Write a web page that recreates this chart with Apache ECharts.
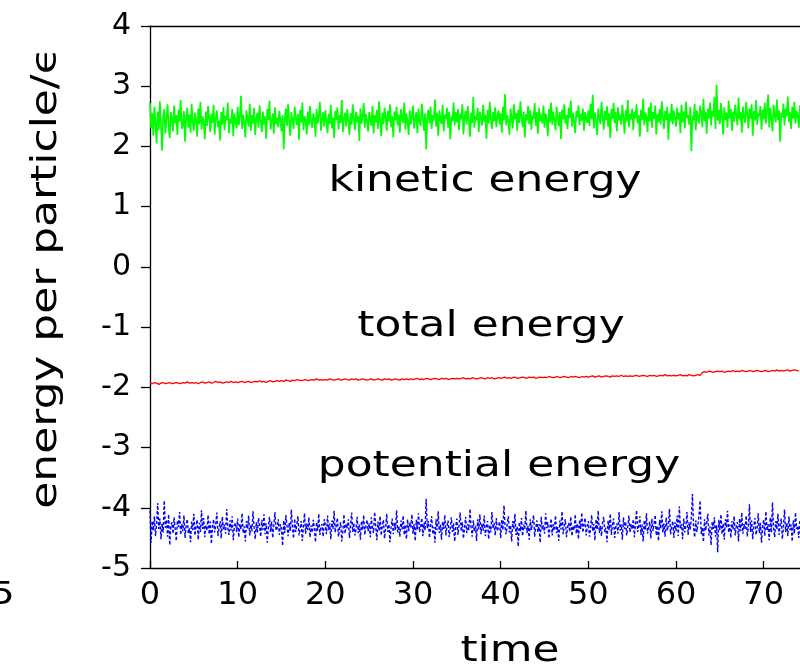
<!DOCTYPE html>
<html>
<head>
<meta charset="utf-8">
<title>energy per particle</title>
<script src="https://cdn.jsdelivr.net/npm/echarts@6/dist/echarts.min.js"></script>
<style>
  html, body { margin: 0; padding: 0; background: #fff; }
  #chart { width: 800px; height: 672px; }
</style>
</head>
<body>
<div id="chart"></div>
<script>
// sampling steps of the time series
const fastStep = 0.125; // kinetic, potential
const slowStep = 0.25;  // total

// kinetic energy per particle
const kinetic = [
  2.72, 2.30, 2.55, 2.18, 2.66, 2.40, 2.05, 2.58, 2.27, 2.75, 2.36, 1.93, 2.49, 2.62, 2.21, 2.44, 2.70, 2.33, 2.14, 2.57, 2.46, 2.25, 2.68, 2.38, 2.52, 2.19, 2.61, 2.42, 2.77, 2.29, 2.35, 2.59, 2.08, 2.47, 2.64, 2.31, 2.53, 2.23, 2.71, 2.40,
  2.26, 2.56, 2.45, 2.16, 2.63, 2.37, 2.74, 2.28, 2.50, 2.41, 2.12, 2.58, 2.34, 2.67, 2.47, 2.24, 2.54, 2.39, 2.69, 2.20, 2.48, 2.60, 2.32, 2.43, 2.10, 2.57, 2.36, 2.65, 2.27, 2.51, 2.44, 2.73, 2.22, 2.46, 2.38, 2.62, 2.17, 2.55, 2.42, 2.30,
  2.66, 2.35, 2.49, 2.84, 2.29, 2.53, 2.40, 2.15, 2.60, 2.45, 2.33, 2.71, 2.26, 2.52, 2.38, 2.64, 2.19, 2.47, 2.56, 2.31, 2.68, 2.42, 2.24, 2.58, 2.36, 2.50, 2.13, 2.62, 2.44, 2.76, 2.28, 2.41, 2.55, 2.21, 2.65, 2.37, 2.48, 2.32, 2.59, 2.43,
  2.25, 2.52, 1.95, 2.46, 2.63, 2.34, 2.70, 2.39, 2.18, 2.57, 2.43, 2.29, 2.66, 2.48, 2.36, 2.54, 2.11, 2.61, 2.40, 2.73, 2.27, 2.50, 2.44, 2.20, 2.58, 2.35, 2.67, 2.42, 2.31, 2.55, 2.46, 2.16, 2.62, 2.38, 2.51, 2.74, 2.26, 2.45, 2.57, 2.33,
  2.60, 2.41, 2.22, 2.54, 2.37, 2.69, 2.30, 2.48, 2.14, 2.59, 2.44, 2.65, 2.28, 2.52, 2.39, 2.77, 2.24, 2.47, 2.56, 2.33, 2.62, 2.42, 2.19, 2.55, 2.36, 2.70, 2.45, 2.27, 2.58, 2.40, 2.51, 2.09, 2.63, 2.38, 2.49, 2.72, 2.31, 2.54, 2.43, 2.25,
  2.57, 2.46, 2.34, 2.67, 2.21, 2.52, 2.40, 2.61, 2.29, 2.75, 2.43, 2.17, 2.56, 2.37, 2.64, 2.48, 2.26, 2.59, 2.41, 2.70, 2.32, 2.50, 2.15, 2.58, 2.44, 2.66, 2.35, 2.53, 2.23, 2.62, 2.47, 2.39, 2.73, 2.28, 2.55, 2.42, 2.19, 2.60, 2.36, 2.51,
  2.68, 2.30, 2.45, 2.57, 2.22, 2.63, 2.41, 2.34, 2.71, 2.47, 2.26, 2.55, 1.95, 2.49, 2.61, 2.38, 2.66, 2.29, 2.52, 2.43, 2.78, 2.33, 2.56, 2.18, 2.60, 2.44, 2.37, 2.69, 2.25, 2.53, 2.46, 2.64, 2.31, 2.58, 2.12, 2.50, 2.42, 2.73, 2.35, 2.57,
  2.40, 2.62, 2.27, 2.54, 2.45, 2.70, 2.20, 2.48, 2.59, 2.36, 2.67, 2.43, 2.16, 2.56, 2.39, 2.82, 2.31, 2.51, 2.44, 2.64, 2.24, 2.58, 2.47, 2.35, 2.69, 2.41, 2.53, 2.13, 2.61, 2.38, 2.74, 2.46, 2.29, 2.57, 2.42, 2.65, 2.32, 2.50, 2.60, 2.37,
  2.55, 2.23, 2.66, 2.44, 2.87, 2.35, 2.52, 2.41, 2.19, 2.63, 2.47, 2.30, 2.70, 2.45, 2.56, 2.26, 2.61, 2.39, 2.75, 2.48, 2.33, 2.58, 2.15, 2.54, 2.43, 2.67, 2.37, 2.60, 2.28, 2.51, 2.46, 2.72, 2.34, 2.57, 2.21, 2.64, 2.42, 2.53, 2.38, 2.68,
  2.31, 2.55, 2.46, 2.17, 2.62, 2.40, 2.73, 2.36, 2.58, 2.44, 2.27, 2.66, 2.49, 2.34, 2.57, 2.12, 2.61, 2.45, 2.70, 2.38, 2.52, 2.29, 2.64, 2.47, 2.76, 2.33, 2.56, 2.41, 2.22, 2.59, 2.48, 2.68, 2.35, 2.54, 2.43, 2.63, 2.26, 2.57, 2.46, 2.39,
  2.60, 2.34, 2.71, 2.45, 2.86, 2.30, 2.56, 2.42, 2.19, 2.63, 2.48, 2.37, 2.74, 2.51, 2.28, 2.59, 2.44, 2.67, 2.33, 2.55, 2.14, 2.62, 2.46, 2.72, 2.39, 2.57, 2.25, 2.65, 2.43, 2.53, 2.36, 2.69, 2.48, 2.21, 2.60, 2.41, 2.77, 2.32, 2.54, 2.45,
  2.63, 2.27, 2.58, 2.47, 2.70, 2.38, 2.52, 2.16, 2.61, 2.44, 2.79, 2.35, 2.56, 2.49, 2.24, 2.65, 2.42, 2.73, 2.31, 2.57, 2.46, 2.68, 2.20, 2.54, 2.40, 2.62, 2.36, 2.75, 2.48, 2.29, 2.59, 2.44, 2.66, 2.11, 2.55, 2.41, 2.71, 2.37, 2.60, 2.47,
  2.33, 2.64, 2.45, 2.56, 2.22, 2.69, 2.40, 2.58, 2.30, 2.74, 2.47, 2.53, 2.36, 2.66, 1.92, 2.51, 2.44, 2.71, 2.27, 2.60, 2.48, 2.38, 2.68, 2.55, 2.32, 2.79, 2.42, 2.57, 2.21, 2.63, 2.46, 2.73, 2.35, 2.59, 2.50, 2.82, 2.29, 3.02, 2.43, 2.61,
  2.37, 2.72, 2.48, 2.20, 2.65, 2.44, 2.56, 2.31, 2.76, 2.47, 2.62, 2.26, 2.58, 2.41, 2.69, 2.52, 2.35, 2.81, 2.45, 2.57, 2.23, 2.66, 2.49, 2.39, 2.74, 2.54, 2.30, 2.63, 2.46, 2.70, 2.18, 2.59, 2.43, 2.77, 2.36, 2.55, 2.50, 2.67, 2.28, 2.61,
  2.45, 2.73, 2.38, 2.58, 2.86, 2.32, 2.64, 2.47, 2.25, 2.69, 2.52, 2.40, 2.78, 2.44, 2.60, 2.08, 2.56, 2.48, 2.71, 2.35, 2.63, 2.50, 2.83, 2.41, 2.57, 2.29, 2.66, 2.46, 2.74, 2.38, 2.59, 2.52, 2.31, 2.68
];

// total energy per particle
const total = [
  -1.93, -1.94, -1.92, -1.93, -1.95, -1.93, -1.92, -1.94, -1.93, -1.92, -1.94, -1.93, -1.92, -1.93, -1.94, -1.92, -1.93, -1.91, -1.93, -1.92,
  -1.93, -1.92, -1.94, -1.92, -1.91, -1.93, -1.92, -1.91, -1.93, -1.92, -1.90, -1.92, -1.91, -1.93, -1.92, -1.91, -1.92, -1.90, -1.92, -1.91,
  -1.92, -1.91, -1.90, -1.92, -1.91, -1.90, -1.92, -1.91, -1.90, -1.91, -1.89, -1.91, -1.90, -1.92, -1.90, -1.89, -1.91, -1.90, -1.89, -1.90,
  -1.89, -1.90, -1.88, -1.89, -1.90, -1.88, -1.89, -1.87, -1.88, -1.89, -1.88, -1.87, -1.89, -1.88, -1.87, -1.88, -1.86, -1.88, -1.87, -1.88,
  -1.87, -1.88, -1.86, -1.87, -1.88, -1.87, -1.86, -1.88, -1.87, -1.86, -1.87, -1.88, -1.86, -1.87, -1.86, -1.88, -1.87, -1.86, -1.87, -1.88,
  -1.87, -1.86, -1.88, -1.87, -1.86, -1.87, -1.88, -1.86, -1.87, -1.86, -1.88, -1.87, -1.86, -1.87, -1.88, -1.86, -1.87, -1.86, -1.87, -1.86,
  -1.87, -1.86, -1.85, -1.87, -1.86, -1.87, -1.85, -1.86, -1.87, -1.86, -1.85, -1.86, -1.87, -1.85, -1.86, -1.85, -1.87, -1.86, -1.85, -1.86,
  -1.85, -1.86, -1.85, -1.84, -1.86, -1.85, -1.86, -1.84, -1.85, -1.86, -1.85, -1.84, -1.85, -1.86, -1.84, -1.85, -1.84, -1.86, -1.85, -1.84,
  -1.85, -1.84, -1.83, -1.85, -1.84, -1.85, -1.83, -1.84, -1.85, -1.84, -1.83, -1.84, -1.85, -1.83, -1.84, -1.83, -1.85, -1.84, -1.83, -1.84,
  -1.83, -1.84, -1.82, -1.83, -1.84, -1.83, -1.82, -1.84, -1.83, -1.82, -1.83, -1.84, -1.82, -1.83, -1.82, -1.83, -1.84, -1.82, -1.83, -1.82,
  -1.83, -1.82, -1.81, -1.83, -1.82, -1.81, -1.83, -1.82, -1.81, -1.82, -1.83, -1.81, -1.82, -1.81, -1.82, -1.80, -1.82, -1.81, -1.82, -1.81,
  -1.82, -1.81, -1.80, -1.82, -1.81, -1.80, -1.81, -1.82, -1.80, -1.81, -1.80, -1.82, -1.81, -1.80, -1.81, -1.79, -1.81, -1.80, -1.81, -1.80,
  -1.81, -1.80, -1.79, -1.81, -1.80, -1.81, -1.79, -1.80, -1.81, -1.80, -1.79, -1.80, -1.75, -1.74, -1.75, -1.73, -1.74, -1.75, -1.74, -1.73,
  -1.74, -1.73, -1.75, -1.74, -1.73, -1.74, -1.72, -1.74, -1.73, -1.74, -1.72, -1.73, -1.74, -1.73, -1.72, -1.74, -1.73, -1.72, -1.73, -1.74,
  -1.73, -1.72, -1.74, -1.73, -1.72, -1.73, -1.71, -1.73, -1.72, -1.73, -1.72, -1.71, -1.73, -1.72, -1.71, -1.72, -1.73
];

// potential energy per particle
const potential = [
  -4.05, -4.58, -4.22, -4.38, -4.14, -4.47, -4.29, -3.92, -4.35, -4.18, -4.52, -4.26, -4.41, -3.88, -4.33, -4.20, -4.48, -4.11, -4.62, -4.30, -4.24, -4.43, -4.16, -4.36, -4.55, -4.21, -4.32, -4.07, -4.45, -4.27, -4.39, -4.13, -4.50, -4.28, -4.19, -4.42, -4.34, -4.57, -4.23, -4.37,
  -4.10, -4.46, -4.31, -4.20, -4.53, -4.25, -4.40, -4.04, -4.35, -4.17, -4.49, -4.29, -4.38, -4.12, -4.44, -4.23, -4.60, -4.32, -4.19, -4.41, -4.27, -4.08, -4.47, -4.34, -4.22, -4.51, -4.15, -4.36, -4.28, -4.43, -4.02, -4.33, -4.45, -4.21, -4.38, -4.14, -4.54, -4.30, -4.25, -4.40,
  -4.18, -4.49, -4.27, -4.36, -4.09, -4.42, -4.31, -4.56, -4.22, -4.35, -4.13, -4.46, -4.28, -4.39, -4.06, -4.33, -4.52, -4.24, -4.41, -4.17, -4.30, -4.48, -4.20, -4.37, -4.11, -4.44, -4.26, -4.58, -4.32, -4.15, -4.40, -4.23, -4.50, -4.29, -4.07, -4.38, -4.34, -4.19, -4.45, -4.27,
  -4.36, -4.63, -4.21, -4.42, -4.12, -4.30, -4.47, -4.25, -4.39, -4.03, -4.33, -4.51, -4.18, -4.40, -4.28, -4.14, -4.46, -4.35, -4.22, -4.55, -4.31, -4.09, -4.43, -4.26, -4.37, -4.16, -4.49, -4.29, -4.41, -4.20, -4.34, -4.57, -4.24, -4.38, -4.10, -4.45, -4.32, -4.27, -4.48, -4.19,
  -4.30, -4.44, -4.13, -4.37, -4.26, -4.52, -4.21, -4.35, -4.05, -4.41, -4.29, -4.17, -4.48, -4.33, -4.24, -4.56, -4.38, -4.11, -4.43, -4.27, -4.34, -4.19, -4.50, -4.31, -4.08, -4.40, -4.25, -4.46, -4.36, -4.15, -4.42, -4.28, -4.53, -4.22, -4.37, -4.12, -4.45, -4.32, -4.20, -4.39,
  -4.26, -4.49, -4.16, -4.35, -4.42, -4.07, -4.31, -4.54, -4.23, -4.38, -4.14, -4.46, -4.29, -4.20, -4.51, -4.34, -4.10, -4.40, -4.27, -4.57, -4.32, -4.18, -4.44, -4.25, -4.37, -4.04, -4.41, -4.30, -4.48, -4.21, -4.36, -4.13, -4.45, -4.28, -4.52, -4.19, -4.39, -4.24, -4.33, -4.11,
  -4.43, -4.27, -4.55, -4.20, -4.36, -4.09, -4.40, -4.31, -4.17, -4.47, -4.25, -4.38, -3.85, -4.34, -4.22, -4.50, -4.29, -4.14, -4.44, -4.32, -4.58, -4.19, -4.37, -4.06, -4.42, -4.28, -4.53, -4.23, -4.35, -4.12, -4.46, -4.30, -4.21, -4.49, -4.33, -4.16, -4.40, -4.26, -4.56, -4.31,
  -4.18, -4.45, -4.29, -4.08, -4.39, -4.24, -4.51, -4.34, -4.15, -4.42, -4.27, -4.37, -4.02, -4.33, -4.48, -4.21, -4.40, -4.30, -4.55, -4.19, -4.36, -4.11, -4.44, -4.26, -4.38, -4.13, -4.47, -4.32, -4.22, -4.52, -4.28, -4.41, -4.07, -4.35, -4.25, -4.46, -4.17, -4.39, -4.31, -4.23,
  -4.50, -4.20, -4.37, -3.96, -4.33, -4.44, -4.26, -4.14, -4.41, -4.29, -4.56, -4.22, -4.36, -4.10, -4.45, -4.31, -4.64, -4.24, -4.39, -4.17, -4.47, -4.28, -4.35, -4.05, -4.42, -4.30, -4.53, -4.19, -4.37, -4.25, -4.12, -4.48, -4.33, -4.21, -4.40, -4.27, -4.58, -4.15, -4.36, -4.29,
  -4.43, -4.09, -4.34, -4.24, -4.51, -4.31, -4.18, -4.46, -4.27, -4.38, -4.13, -4.42, -4.32, -4.55, -4.21, -4.36, -4.06, -4.44, -4.29, -4.19, -4.49, -4.33, -4.25, -4.40, -4.15, -4.47, -4.30, -4.37, -4.11, -4.43, -4.26, -4.52, -4.20, -4.35, -4.08, -4.41, -4.28, -4.17, -4.46, -4.32,
  -4.22, -4.48, -4.34, -4.12, -4.39, -4.27, -4.54, -4.19, -4.36, -4.05, -4.42, -4.30, -4.47, -4.24, -4.15, -4.40, -4.33, -4.57, -4.21, -4.37, -4.10, -4.45, -4.29, -4.18, -4.50, -4.32, -4.26, -4.43, -4.07, -4.38, -4.28, -4.53, -4.16, -4.35, -4.23, -4.46, -4.31, -4.13, -4.41, -4.27,
  -4.36, -4.19, -4.49, -4.25, -4.04, -4.40, -4.31, -4.14, -4.45, -4.28, -4.56, -4.21, -4.37, -4.09, -4.43, -4.33, -4.23, -4.51, -4.18, -4.39, -4.27, -4.12, -4.46, -4.30, -4.55, -4.20, -4.35, -4.06, -4.41, -4.26, -4.48, -4.16, -4.38, -4.29, -4.02, -4.44, -4.32, -4.22, -4.50, -4.24,
  -4.39, -4.13, -4.47, -3.98, -4.34, -4.27, -4.52, -4.18, -4.41, -4.30, -4.07, -4.45, -4.24, -4.36, -4.15, -3.77, -4.32, -4.49, -4.21, -4.40, -4.28, -4.12, -3.88, -4.44, -4.33, -4.57, -4.19, -4.38, -4.25, -4.10, -4.46, -4.31, -4.62, -4.23, -4.35, -4.16, -4.48, -4.29, -4.74, -4.20,
  -4.37, -4.11, -4.44, -4.26, -4.53, -4.19, -4.33, -4.05, -4.41, -4.28, -4.50, -4.22, -4.36, -4.14, -4.46, -4.30, -4.24, -4.56, -4.18, -4.39, -4.08, -4.43, -4.27, -4.35, -4.13, -4.48, -4.32, -3.94, -4.40, -4.21, -4.52, -4.29, -4.17, -4.45, -4.34, -4.09, -4.42, -4.25, -4.58, -4.31,
  -4.20, -4.47, -4.06, -4.38, -4.27, -4.54, -4.16, -4.41, -3.91, -4.33, -4.49, -4.22, -4.36, -4.10, -4.45, -4.29, -4.18, -4.52, -4.31, -4.03, -4.40, -4.25, -4.47, -4.14, -4.37, -4.28, -4.56, -4.21, -4.43, -4.08, -4.35, -4.30, -4.50, -4.19
];

const xMin = 0, xMax = 74.14, xTick = 10;
const yMin = -5, yMax = 4, yTick = 1;

const font = 'DejaVu Sans';
const labelFont = '36px "DejaVu Sans"';
const stretch = 1.22; // the reference lettering is wider than DejaVu

// pair each value with its time
const withTime = (arr, step) => arr.map((v, i) => [i * step, v]);

const label = (text, x, y, extra) => Object.assign({
  type: 'text', x: x, y: y, scaleX: stretch,
  style: { text: text, font: labelFont, fill: '#000', textAlign: 'center', textVerticalAlign: 'middle' }
}, extra);

const chart = echarts.init(document.getElementById('chart'));

chart.setOption({
  animation: false,
  backgroundColor: '#fff',
  grid: { left: 150, top: 26, right: 0, bottom: 104 },
  xAxis: [
    {
      type: 'value',
      min: xMin,
      max: xMax,
      interval: xTick,
      axisLine: { onZero: false, lineStyle: { color: '#000', width: 1.3 } },
      axisTick: { inside: true, length: 7, lineStyle: { color: '#000', width: 1.3 } },
      axisLabel: { fontFamily: font, fontSize: 32, color: '#000', margin: 12, showMaxLabel: false },
      splitLine: { show: false }
    },
    {
      type: 'value',
      position: 'top',
      min: xMin,
      max: xMax,
      axisLine: { onZero: false, lineStyle: { color: '#000', width: 1.3 } },
      axisTick: { show: false },
      axisLabel: { show: false },
      splitLine: { show: false }
    }
  ],
  yAxis: {
    type: 'value',
    min: yMin,
    max: yMax,
    interval: yTick,
    axisLine: { onZero: false, lineStyle: { color: '#000', width: 1.3 } },
    axisTick: { length: 9, lineStyle: { color: '#000', width: 1.3 } },
    axisLabel: { fontFamily: font, fontSize: 30, color: '#000', margin: 19 },
    splitLine: { show: false }
  },
  series: [
    {
      name: 'kinetic energy',
      type: 'line',
      showSymbol: false,
      data: withTime(kinetic, fastStep),
      lineStyle: { color: '#00ff00', width: 1.7 }
    },
    {
      name: 'total energy',
      type: 'line',
      showSymbol: false,
      data: withTime(total, slowStep),
      lineStyle: { color: '#ff0000', width: 1.3 }
    },
    {
      name: 'potential energy',
      type: 'line',
      showSymbol: false,
      data: withTime(potential, fastStep),
      lineStyle: { color: '#0000ff', width: 1.4, type: [3, 2] }
    }
  ],
  graphic: [
    label('kinetic energy', 485, 182),
    label('total energy', 491, 327),
    label('potential energy', 499, 467),
    label('time', 510, 652),
    label('energy per particle/ϵ', 47, 278, { rotation: Math.PI / 2 }),
    // tick label of a neighbouring panel, cut off at the left edge
    { type: 'text', x: -10, y: 596, scaleX: stretch, style: { text: '5', font: '32px "DejaVu Sans"', fill: '#000', textAlign: 'left', textVerticalAlign: 'middle' } }
  ]
});
</script>
</body>
</html>
